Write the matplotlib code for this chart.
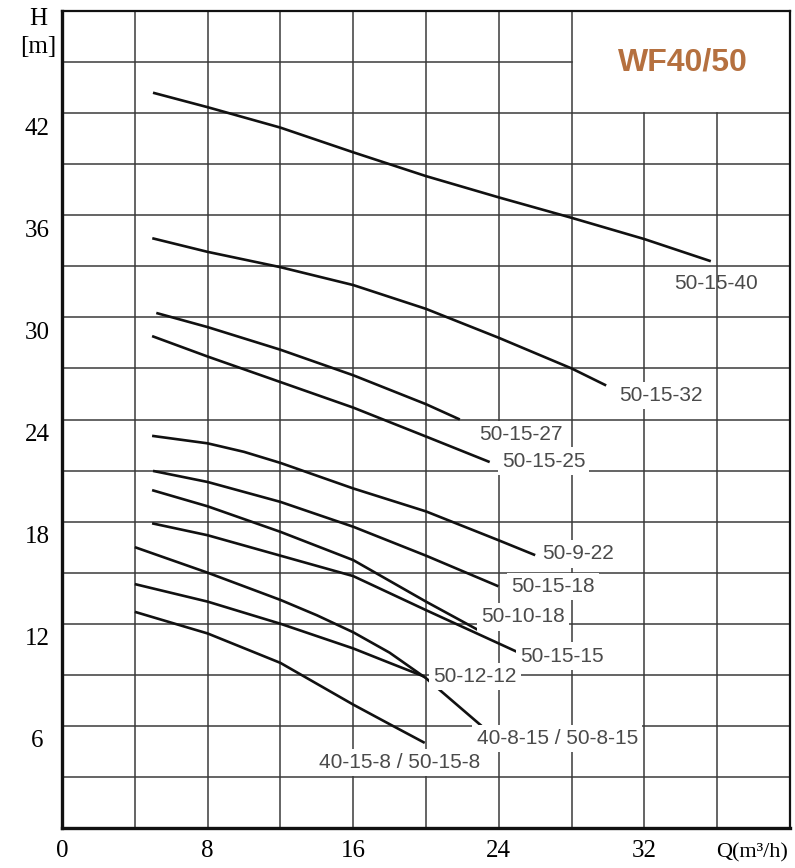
import matplotlib
matplotlib.use("Agg")
import matplotlib.pyplot as plt
from matplotlib.transforms import ScaledTranslation

# curva H-Q de cada modelo (Q en m3/h, H en m)
q_50_15_40 = [5.0, 8, 12, 16, 20, 24, 28, 32, 35.65]
h_50_15_40 = [43.2, 42.35, 41.15, 39.7, 38.3, 37.05, 35.85, 34.6, 33.3]

q_50_15_32 = [4.96, 8, 12, 16, 20, 24, 28, 29.9]
h_50_15_32 = [34.65, 33.85, 32.95, 31.9, 30.5, 28.8, 27.0, 26.0]

q_50_15_27 = [5.18, 8, 12, 16, 20, 21.86]
h_50_15_27 = [30.26, 29.43, 28.1, 26.6, 24.9, 24.0]

q_50_15_25 = [4.95, 8, 12, 16, 20, 23.5]
h_50_15_25 = [28.9, 27.7, 26.2, 24.7, 23.0, 21.5]

q_50_9_22 = [4.95, 8, 10, 12, 16, 20, 24, 26.0]
h_50_9_22 = [23.04, 22.6, 22.1, 21.45, 19.95, 18.6, 16.9, 16.03]

q_50_15_18 = [5.0, 8, 12, 16, 20, 23.98]
h_50_15_18 = [20.98, 20.33, 19.16, 17.7, 16.0, 14.2]

q_50_10_18 = [4.95, 8, 12, 16, 20, 22.87]
h_50_10_18 = [19.85, 18.9, 17.4, 15.74, 13.3, 11.63]

q_50_15_15 = [4.95, 8, 12, 16, 18, 20, 25.0]
h_50_15_15 = [17.9, 17.2, 16.0, 14.8, 13.8, 12.8, 10.35]

q_50_8_15 = [4.0, 8, 12, 14, 16, 18, 20, 23.05]
h_50_8_15 = [16.5, 15.0, 13.4, 12.5, 11.5, 10.3, 8.8, 6.0]

q_50_12_12 = [4.0, 8, 12, 16, 18, 19.9]
h_50_12_12 = [14.33, 13.3, 12.0, 10.55, 9.7, 8.9]

q_50_15_8 = [4.0, 8, 12, 16, 18, 19.93]
h_50_15_8 = [12.7, 11.43, 9.7, 7.25, 6.1, 5.0]

curvas = [
    (q_50_15_40, h_50_15_40), (q_50_15_32, h_50_15_32), (q_50_15_27, h_50_15_27),
    (q_50_15_25, h_50_15_25), (q_50_9_22, h_50_9_22), (q_50_15_18, h_50_15_18),
    (q_50_10_18, h_50_10_18), (q_50_15_15, h_50_15_15), (q_50_8_15, h_50_8_15),
    (q_50_12_12, h_50_12_12), (q_50_15_8, h_50_15_8),
]

# etiquetas: texto, Q, H
etiquetas = [
    ("50-15-40", 35.96, 32.0),
    ("50-15-32", 30.6, 25.4),
    ("50-15-27", 22.9, 23.1),
    ("50-15-25", 24.16, 21.56),
    ("50-9-22", 26.37, 16.1),
    ("50-15-18", 24.7, 14.2),
    ("50-10-18", 23.05, 12.4),
    ("50-15-15", 25.15, 10.1),
    ("50-12-12", 20.4, 8.9),
    ("40-8-15 / 50-8-15", 22.78, 5.26),
    ("40-15-8 / 50-15-8", 14.12, 3.83),
]

x_ticks = [0, 8, 16, 24, 32]
y_ticks = [6, 12, 18, 24, 30, 36, 42]
x_grid = [4, 8, 12, 16, 20, 24, 28, 32, 36]
y_grid = [3, 6, 9, 12, 15, 18, 21, 24, 27, 30, 33, 36, 39, 42, 45]

fig = plt.figure(figsize=(7.95, 8.68), dpi=100)
ax = fig.add_axes([0.078, 0.0461, 0.9157, 0.9412])
ax.set_xlim(0, 40)
ax.set_ylim(0, 48)

grid_col = "#3a3a3a"
# cuadricula (hueco arriba a la derecha para el titulo)
for gx in x_grid:
    top = 42 if gx > 28 else 48
    ax.plot([gx, gx], [0, top], color=grid_col, lw=1.1, zorder=1)
for gy in y_grid:
    right = 28 if gy == 45 else 40
    ax.plot([0, right], [gy, gy], color=grid_col, lw=1.1, zorder=1)

for q, h in curvas:
    ax.plot(q, h, color="#111111", lw=1.9, zorder=3, solid_capstyle="butt")

for txt, qx, hy in etiquetas:
    kw = dict(fontsize=15, family="Liberation Sans", color="#4a4a4a", va="center", zorder=4)
    if txt == "50-15-40":
        ax.text(qx, hy, txt, ha="center", **kw)
    else:
        ax.text(qx, hy, txt, ha="left",
                bbox=dict(facecolor="white", edgecolor="none", pad=3), **kw)

ax.text(34.1, 45.0, "WF40/50", ha="center", va="center", fontsize=23,
        family="Liberation Sans", fontweight="bold", color="#b5703f", zorder=4)

for side in ["left", "bottom"]:
    ax.spines[side].set_linewidth(2.4)
for side in ["top", "right"]:
    ax.spines[side].set_linewidth(1.6)
for s in ax.spines.values():
    s.set_color("#111111")

ax.set_xticks(x_ticks)
ax.set_yticks(y_ticks)
ax.tick_params(length=0, labelsize=18)
ax.tick_params(axis="y", pad=18)
ax.tick_params(axis="x", pad=9)
for lbl in ax.get_xticklabels() + ax.get_yticklabels():
    lbl.set_family("Liberation Serif")
for lbl in ax.get_yticklabels():
    lbl.set_horizontalalignment("center")
    lbl.set_transform(lbl.get_transform() + ScaledTranslation(0, -0.13, fig.dpi_scale_trans))

fig.text(0.048, 0.978, "H", ha="center", va="center", fontsize=18, family="Liberation Serif")
fig.text(0.048, 0.946, "[m]", ha="center", va="center", fontsize=18, family="Liberation Serif")
fig.text(0.946, 0.018, "Q(m³/h)", ha="center", va="center", fontsize=16, family="Liberation Serif")

fig.savefig("out.png", dpi=100)
plt.close(fig)
